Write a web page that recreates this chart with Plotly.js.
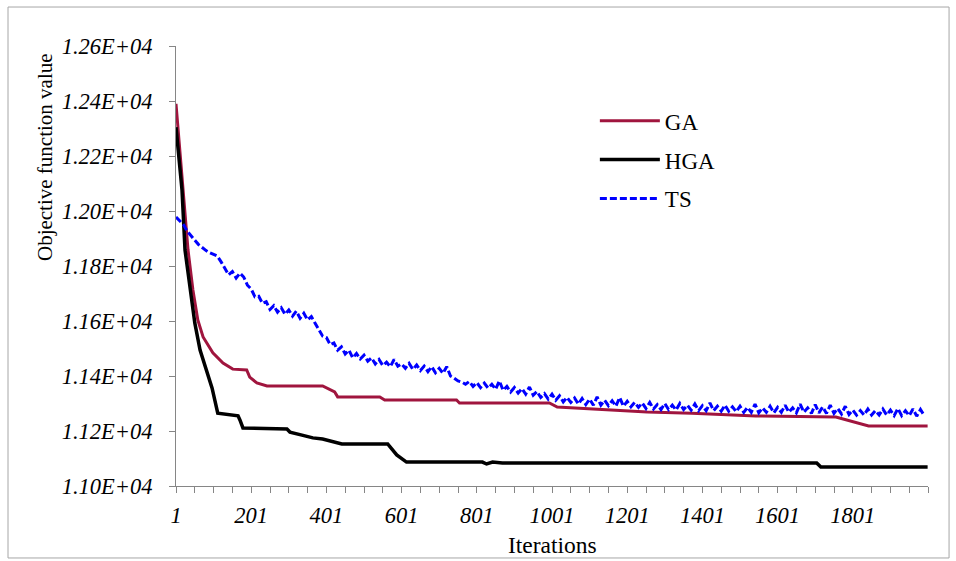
<!DOCTYPE html>
<html>
<head>
<meta charset="utf-8">
<script src="https://cdn.plot.ly/plotly-3.0.1.min.js"></script>
<style>html,body{margin:0;padding:0;background:#fff;}#chart{width:956px;height:561px;}</style>
</head>
<body>
<div id="chart"></div>
<script>
// ---- Data ----
const gaIter = [1, 20, 33, 46, 59, 73, 99, 126, 152, 189, 197, 216, 243, 391, 402, 423, 431, 543, 556, 747, 755, 994, 1015, 1166, 1254, 1373, 1543, 1756, 1843, 2000];
const gaValue = [12390, 12076, 11858, 11713, 11604, 11542, 11484, 11447, 11425, 11422, 11396, 11375, 11364, 11364, 11356, 11342, 11324, 11324, 11313, 11313, 11302, 11302, 11287, 11276, 11269, 11265, 11255, 11251, 11218, 11218];

const hgaIter = [1, 12, 17, 25, 38, 51, 65, 83, 97, 112, 166, 171, 179, 296, 304, 336, 365, 391, 442, 564, 588, 614, 816, 827, 843, 869, 1705, 1716, 2000];
const hgaValue = [12305, 12138, 12076, 11858, 11713, 11593, 11494, 11411, 11356, 11265, 11255, 11240, 11211, 11207, 11196, 11185, 11175, 11171, 11153, 11153, 11113, 11087, 11087, 11080, 11087, 11084, 11084, 11069, 11069];

// TS sampled every 10 iterations starting at iteration 1
const tsValue = [
  11978, 11965, 11950, 11926, 11908, 11894, 11878, 11866, 11856, 11848,
  11842, 11836, 11815, 11792, 11768, 11780, 11756, 11774, 11760, 11730,
  11716, 11688, 11690, 11664, 11670, 11642, 11656, 11632, 11648, 11624,
  11640, 11618, 11636, 11610, 11628, 11604, 11616, 11592, 11570, 11545,
  11540, 11514, 11520, 11494, 11506, 11480, 11494, 11466, 11482, 11462,
  11476, 11454, 11466, 11444, 11460, 11438, 11450, 11434, 11460, 11436,
  11444, 11428, 11446, 11424, 11440, 11420, 11436, 11416, 11434, 11412,
  11428, 11410, 11434, 11400, 11392, 11382, 11378, 11370, 11380, 11362,
  11376, 11358, 11374, 11356, 11370, 11352, 11382, 11348, 11362, 11342,
  11358, 11338, 11354, 11334, 11360, 11330, 11344, 11322, 11336, 11316,
  11334, 11312, 11328, 11306, 11322, 11304, 11320, 11298, 11318, 11296,
  11316, 11294, 11324, 11294, 11312, 11292, 11310, 11290, 11322, 11290,
  11308, 11288, 11304, 11286, 11302, 11282, 11304, 11280, 11296, 11278,
  11300, 11278, 11294, 11276, 11300, 11278, 11294, 11276, 11298, 11274,
  11292, 11274, 11302, 11274, 11290, 11272, 11294, 11272, 11288, 11270,
  11290, 11268, 11286, 11268, 11298, 11266, 11284, 11268, 11290, 11266,
  11286, 11268, 11294, 11268, 11284, 11266, 11298, 11268, 11284, 11264,
  11296, 11266, 11288, 11264, 11294, 11264, 11282, 11262, 11290, 11260,
  11276, 11258, 11274, 11258, 11280, 11258, 11274, 11258, 11280, 11258,
  11276, 11256, 11282, 11256, 11274, 11256, 11280, 11254, 11278, 11256
];

const xTickVals = [1, 201, 401, 601, 801, 1001, 1201, 1401, 1601, 1801];
const xTickLabels = ["1", "201", "401", "601", "801", "1001", "1201", "1401", "1601", "1801"];
const yTickVals = [11000, 11200, 11400, 11600, 11800, 12000, 12200, 12400, 12600];
const yTickLabels = ["1.10E+04", "1.12E+04", "1.14E+04", "1.16E+04", "1.18E+04", "1.20E+04", "1.22E+04", "1.24E+04", "1.26E+04"];

const seriesNames = ["GA", "HGA", "TS"];
const xTitle = "Iterations";
const yTitle = "Objective function value";

// ---- Chart ----
const FONT = "Liberation Serif, Times New Roman, serif";
const AX = "#868686";

const traces = [
  { x: gaIter, y: gaValue, name: seriesNames[0], mode: "lines", legendgroup: "a",
    line: { color: "#A0153E", width: 3 }, hoverinfo: "skip" },
  { x: hgaIter, y: hgaValue, name: seriesNames[1], mode: "lines", legendgroup: "b",
    line: { color: "#000000", width: 3.5 }, hoverinfo: "skip" },
  { x0: 1, dx: 10, y: tsValue, name: seriesNames[2], mode: "lines", legendgroup: "c",
    line: { color: "#0000FF", width: 3, dash: "7px,3px" }, hoverinfo: "skip" }
];

const layout = {
  width: 956, height: 561,
  margin: { l: 176, r: 28, t: 46, b: 75 },
  paper_bgcolor: "#ffffff", plot_bgcolor: "#ffffff",
  font: { family: FONT, color: "#000000", size: 22 },
  showlegend: true,
  legend: {
    x: 0.557, xanchor: "left", y: 0.879, yanchor: "top",
    font: { family: FONT, size: 23, color: "#000" },
    bgcolor: "rgba(0,0,0,0)", tracegroupgap: 6, itemwidth: 60
  },
  xaxis: {
    range: [1, 2001], showgrid: false, zeroline: false,
    showline: true, linecolor: AX, linewidth: 1,
    tickmode: "array", tickvals: xTickVals, ticktext: xTickLabels,
    ticks: "outside", ticklen: 6, tickcolor: AX, tickwidth: 1,
    ticklabelstandoff: 3,
    minor: { tickmode: "linear", tick0: 1, dtick: 50, ticks: "outside", ticklen: 6, tickcolor: AX, tickwidth: 1, showgrid: false },
    tickfont: { family: FONT, size: 22.5, style: "italic", color: "#000" }
  },
  yaxis: {
    range: [11000, 12600], showgrid: false, zeroline: false,
    showline: true, linecolor: AX, linewidth: 1,
    tickmode: "array", tickvals: yTickVals, ticktext: yTickLabels,
    ticks: "outside", ticklen: 6, tickcolor: AX, tickwidth: 1,
    ticklabelstandoff: 12,
    tickfont: { family: FONT, size: 22.5, style: "italic", color: "#000" }
  },
  annotations: [
    { text: yTitle, xref: "paper", yref: "paper", x: -0.174, y: 0.748,
      xanchor: "center", yanchor: "middle", textangle: -90, showarrow: false,
      font: { family: FONT, size: 21, color: "#000" } },
    { text: xTitle, xref: "paper", yref: "paper", x: 0.5, y: -0.134,
      xanchor: "center", yanchor: "middle", showarrow: false,
      font: { family: FONT, size: 23.5, color: "#000" } }
  ],
  shapes: [
    { type: "rect", xref: "paper", yref: "paper", x0: -0.2234, x1: 1.028, y0: -0.1636, y1: 1.0886,
      line: { color: "#A6A6A6", width: 1 }, fillcolor: "rgba(0,0,0,0)", layer: "below" }
  ]
};

Plotly.newPlot("chart", traces, layout, { displayModeBar: false, staticPlot: true });
</script>
</body>
</html>
